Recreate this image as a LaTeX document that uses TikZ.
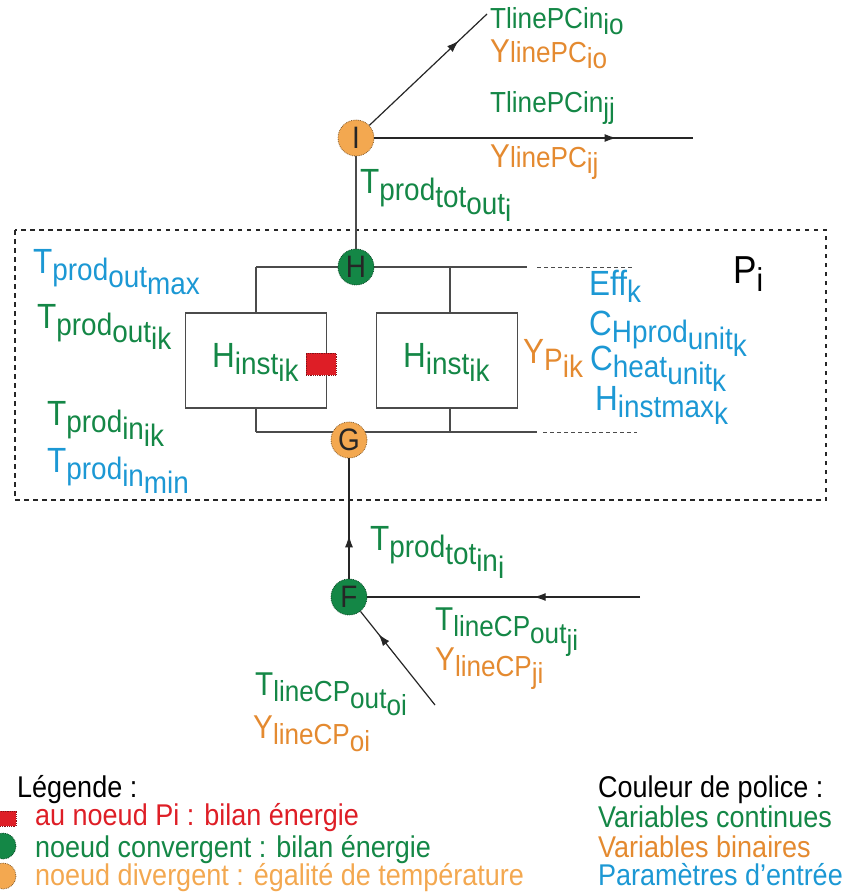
\documentclass[tikz,border=0pt]{standalone}
\usepackage{fontspec}
\setmainfont[FakeStretch=0.9]{Liberation Sans}
\usetikzlibrary{arrows.meta,decorations.markings}
\definecolor{cvert}{RGB}{20,135,70}
\definecolor{corange}{RGB}{228,138,48}
\definecolor{corclair}{RGB}{243,168,80}
\definecolor{cbleu}{RGB}{28,152,212}
\definecolor{crouge}{RGB}{222,30,38}
\definecolor{cfil}{RGB}{75,75,75}
\newcommand{\lo}[1]{\raisebox{-.23em}{#1}}
\newcommand{\gr}[1]{{\fontsize{35}{35}\selectfont #1}}
\newcommand{\mo}[1]{{\fontsize{33}{33}\selectfont #1}}
\tikzset{
  lab/.style={anchor=base west,inner sep=0pt,font=\fontsize{31}{31}\selectfont},
  labs/.style={anchor=base west,inner sep=0pt,font=\fontsize{29}{29}\selectfont},
  leg/.style={anchor=base west,inner sep=0pt,font=\fontsize{30}{30}\selectfont},
  fil/.style={draw=cfil,line width=1.2pt},
  tiret/.style={draw=cfil,line width=1pt,dash pattern=on 4pt off 3pt},
  cadre/.style={draw=black!85,line width=2pt,dash pattern=on 4.5pt off 4.5pt},
  boite/.style={draw=cfil,line width=1.2pt,minimum width=141pt,minimum height=95pt,inner sep=0pt},
  noeud/.style={circle,minimum size=36pt,inner sep=0pt,fill=#1,draw=#1!55!black,densely dotted,line width=.8pt,font=\fontsize{31}{31}\selectfont,text=black!85},
  carre/.style={fill=crouge,draw=crouge!60!black,densely dotted,line width=.8pt,minimum width=30pt,minimum height=22pt,inner sep=0pt},
  flm/.style={draw=black!85,line width=1.2pt,postaction={decorate},decoration={markings,mark=at position #1 with {\arrow{Latex[length=12pt,width=8pt]}}}}
}
\begin{document}
\begin{tikzpicture}[x=1pt,y=-1pt]
\clip(0,0)rectangle(853,894);
% cadre du noeud Pi
\draw[cadre](15,230)rectangle(826,500);
\node[anchor=base west,inner sep=0pt,font=\fontsize{39}{39}\selectfont](pi)at(733,283){P\lo{\fontsize{33}{33}\selectfont i}};
% barres H et G
\coordinate(h1)at(256,267);\coordinate(h2)at(450,267);\coordinate(h3)at(527,267);\coordinate(h4)at(537,267);\coordinate(h5)at(633,267);
\coordinate(g1)at(256,432);\coordinate(g2)at(450,432);\coordinate(g3)at(537,432);\coordinate(g4)at(543,432);\coordinate(g5)at(637,432);
\draw[fil](h1)--(h3);\draw[tiret](h4)--(h5);
\draw[fil](g1)--(g3);\draw[tiret](g4)--(g5);
\node[boite](b1)at(256,360.5){};\node[boite](b2)at(447,360.5){};
\draw[fil](h1)--(b1.north);\draw[fil](b1.south)--(g1);
\draw[fil](h2)--(h2|-b2.north);\draw[fil](h2|-b2.south)--(g2);
\node[carre](rq)at(321,364){};
% noeuds
\node[noeud=corclair](I)at(356,138){I};
\node[noeud=cvert](H)at(356,267){H};
\node[noeud=corclair](G)at(349,440){G};
\node[noeud=cvert](F)at(349,597){F};
\coordinate(io)at(487,14);\coordinate(ij)at(693,138);
\coordinate(ji)at(640,597);\coordinate(oi)at(435,705);
\draw[fil](I)--(H);\draw[fil](G)--(F);
\draw[flm=.76](I)--(io);\draw[flm=.76](I)--(ij);
\draw[flm=.36](F)--(G);\draw[flm=.39](ji)--(F);\draw[flm=.76](oi)--(F);
% etiquettes
\node[labs,text=cvert](tio)at(490,28){TlinePCin\lo{io}};
\node[labs,text=corange](yio)at(490,62){\mo{Y}linePC\lo{io}};
\node[labs,text=cvert](tij)at(490,112){TlinePCin\lo{jj}};
\node[labs,text=corange](yij)at(490,167){\mo{Y}linePC\lo{ij}};
\node[lab,text=cvert](tto)at(360,193){\gr{T}\lo{prod\lo{tot\lo{out\lo{i}}}}};
\node[lab,text=cbleu](tom)at(33,273){\gr{T}\lo{prod\lo{out\lo{max}}}};
\node[lab,text=cvert](toi)at(37,328){\gr{T}\lo{prod\lo{out\lo{ik}}}};
\node[lab,text=cvert](tii)at(47,425){\gr{T}\lo{prod\lo{in\lo{ik}}}};
\node[lab,text=cbleu](tim)at(47,472){\gr{T}\lo{prod\lo{in\lo{min}}}};
\node[lab,text=cvert](hb1)at(212,367){\gr{H}\lo{inst\lo{ik}}};
\node[lab,text=cvert](hb2)at(403,367){\gr{H}\lo{inst\lo{ik}}};
\node[lab,text=corange](yp)at(523,363){\gr{Y}\lo{P\lo{ik}}};
\node[lab,text=cbleu](eff)at(589,295){\gr{Eff}\lo{k}};
\node[lab,text=cbleu](chp)at(589,335){\gr{C}\lo{Hprod\lo{unit\lo{k}}}};
\node[lab,text=cbleu](chu)at(590,370){\gr{C}\lo{heat\lo{unit\lo{k}}}};
\node[lab,text=cbleu](hmx)at(595,410){\gr{H}\lo{instmax\lo{k}}};
\node[lab,text=cvert](tti)at(370,550){\gr{T}\lo{prod\lo{tot\lo{in\lo{i}}}}};
\node[labs,text=cvert](tji)at(435,630){\mo{T}\lo{lineCP\lo{out\lo{ji}}}};
\node[labs,text=corange](yji)at(435,670){\mo{Y}\lo{lineCP\lo{ji}}};
\node[labs,text=cvert](toi2)at(255,695){\mo{T}\lo{lineCP\lo{out\lo{oi}}}};
\node[labs,text=corange](yoi)at(253,738){\mo{Y}\lo{lineCP\lo{oi}}};
% legende
\node[leg](lg)at(17,797){Légende :};
\draw[fill=crouge,draw=crouge!60!black,densely dotted,line width=.8pt](-12,811)rectangle(16,826);
\draw[fill=cvert,draw=cvert!55!black,densely dotted,line width=.8pt](3,846)circle(13);
\draw[fill=corclair,draw=corclair!55!black,densely dotted,line width=.8pt](3,876)circle(13);
\node[leg,text=crouge](l1)at(35,825){au noeud Pi : bilan énergie};
\node[leg,text=cvert](l2)at(35,857){noeud convergent : bilan énergie};
\node[leg,text=corclair](l3)at(35,885){noeud divergent : égalité de température};
\node[leg](cp)at(598,797){Couleur de police :};
\node[leg,text=cvert](c1)at(598,827){Variables continues};
\node[leg,text=corange](c2)at(598,857){Variables binaires};
\node[leg,text=cbleu](c3)at(598,885){Paramètres d’entrée};
\end{tikzpicture}
\end{document}
